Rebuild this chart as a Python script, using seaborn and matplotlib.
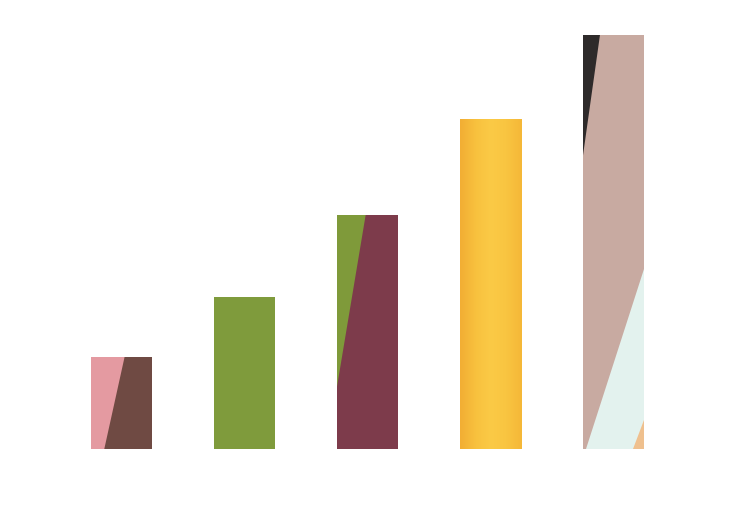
import numpy as np
import pandas as pd
import matplotlib
matplotlib.use('Agg')
import matplotlib.pyplot as plt
from matplotlib.patches import Polygon
from matplotlib.colors import LinearSegmentedColormap
import seaborn as sns

# bar data (heights)
categories = ['A', 'B', 'C', 'D', 'E']
values = [92, 152, 234, 330, 414]
base_colors = ['#6f4a43', '#7f9b3c', '#7d3b4b', '#f7c03e', '#c8aaa1']

# accent pieces cut into each bar: (bar index, colour, points as fractions of bar width/height)
accents = [
    (0, '#e49aa1', [(0, 1), (0.55, 1), (0.22, 0), (0, 0)]),
    (2, '#7f9a3a', [(0, 1), (0.47, 1), (0, 0.26)]),
    (4, '#2e2a2a', [(0, 1), (0.28, 1), (0, 0.705)]),
    (4, '#e3f2ee', [(1, 0.435), (1, 0), (0.05, 0)]),
    (4, '#efc08e', [(1, 0.07), (1, 0), (0.82, 0)]),
]

df = pd.DataFrame({'cat': categories, 'val': values})

sns.set_theme(style='white')
fig = plt.figure(figsize=(7.4, 5.21), dpi=100)
ax = fig.add_axes([60 / 740, 72 / 521, 615 / 740, 429 / 521])

sns.barplot(data=df, x='cat', y='val', hue='cat', palette=base_colors,
            width=0.5, legend=False, saturation=1, ax=ax)
ax.set_xlim(-0.5, 4.5)
ax.set_ylim(0, 429)

bars = ax.patches[:len(categories)]
for b in bars:
    b.set_edgecolor('none')

for idx, col, pts in accents:
    b = bars[idx]
    x0, w, h = b.get_x(), b.get_width(), b.get_height()
    poly = Polygon([(x0 + fx * w, fy * h) for fx, fy in pts], closed=True,
                   facecolor=col, edgecolor='none', zorder=3)
    ax.add_patch(poly)
    poly.set_clip_path(b)

# soft sideways shading on the yellow bar
b = bars[3]
x0, w, h = b.get_x(), b.get_width(), b.get_height()
shade = LinearSegmentedColormap.from_list('shade', ['#f2ae34', '#f8c13e', '#fbca46', '#f9c541', '#f5b838'])
im = ax.imshow(np.linspace(0, 1, 64)[None, :], cmap=shade, aspect='auto',
               extent=(x0, x0 + w, 0, h), zorder=2.5)
im.set_clip_path(b)
ax.set_xlim(-0.5, 4.5)
ax.set_ylim(0, 429)

ax.set_axis_off()
fig.savefig('out.png', dpi=100, facecolor='white')
